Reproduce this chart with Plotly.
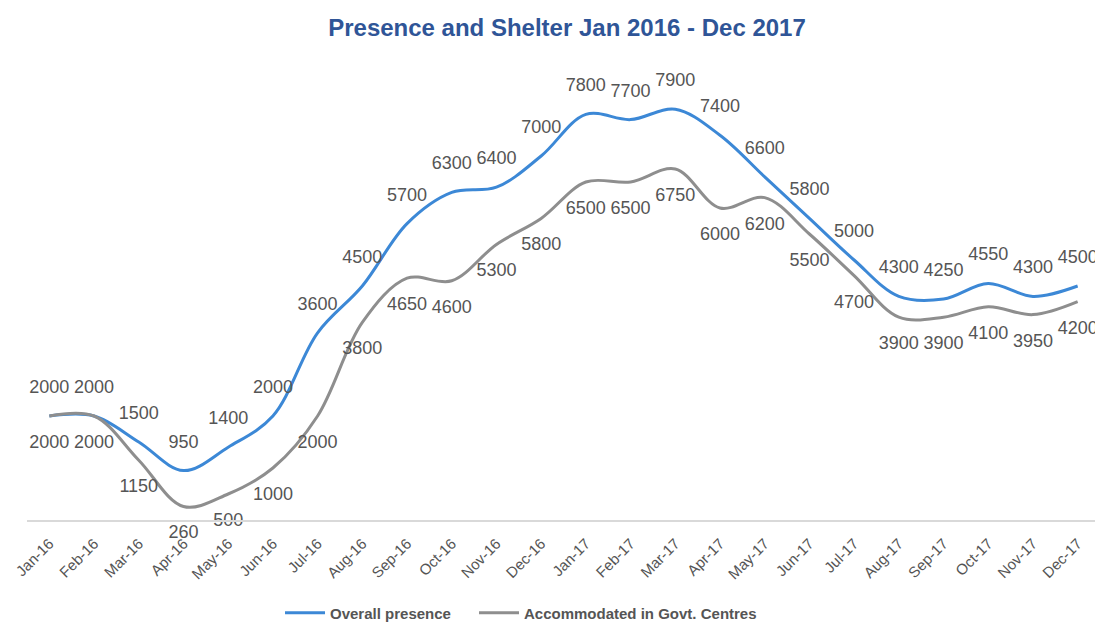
import plotly.graph_objects as go

months = ["Jan-16", "Feb-16", "Mar-16", "Apr-16", "May-16", "Jun-16", "Jul-16", "Aug-16",
          "Sep-16", "Oct-16", "Nov-16", "Dec-16", "Jan-17", "Feb-17", "Mar-17", "Apr-17",
          "May-17", "Jun-17", "Jul-17", "Aug-17", "Sep-17", "Oct-17", "Nov-17", "Dec-17"]
overall_presence = [2000, 2000, 1500, 950, 1400, 2000, 3600, 4500, 5700, 6300, 6400, 7000,
                    7800, 7700, 7900, 7400, 6600, 5800, 5000, 4300, 4250, 4550, 4300, 4500]
accommodated = [2000, 2000, 1150, 260, 500, 1000, 2000, 3800, 4650, 4600, 5300, 5800,
                6500, 6500, 6750, 6000, 6200, 5500, 4700, 3900, 3900, 4100, 3950, 4200]

blue = "#3C88D6"
gray = "#8E8E8E"
label_color = "#555555"
font_family = "Liberation Sans, Arial, sans-serif"

# the page body adds an 8px offset, so the figure is sized to fill the rest of the window
W, H = 1095, 618

fig = go.Figure()
fig.add_trace(go.Scatter(x=months, y=overall_presence, name="<b>Overall presence</b>",
                         mode="lines", legendwidth=139,
                         line=dict(color=blue, width=3, shape="spline", smoothing=1)))
fig.add_trace(go.Scatter(x=months, y=accommodated, name="<b>Accommodated in Govt. Centres</b>",
                         mode="lines",
                         line=dict(color=gray, width=3, shape="spline", smoothing=1)))
# data labels
fig.add_trace(go.Scatter(x=months, y=overall_presence, mode="markers+text", showlegend=False,
                         hoverinfo="skip", text=[str(v) for v in overall_presence],
                         textposition="top center", cliponaxis=False,
                         marker=dict(size=28, color="rgba(0,0,0,0)"),
                         textfont=dict(size=18, color=label_color, family=font_family)))
fig.add_trace(go.Scatter(x=months, y=accommodated, mode="markers+text", showlegend=False,
                         hoverinfo="skip", text=[str(v) for v in accommodated],
                         textposition="bottom center", cliponaxis=False,
                         marker=dict(size=28, color="rgba(0,0,0,0)"),
                         textfont=dict(size=18, color=label_color, family=font_family)))

fig.update_layout(
    width=W, height=H,
    margin=dict(l=19, r=3, t=44, b=106),
    paper_bgcolor="white", plot_bgcolor="white",
    font=dict(family=font_family, color=label_color),
    title=dict(text="<b>Presence and Shelter Jan 2016 - Dec 2017</b>",
               font=dict(size=24, color="#2F5597", family=font_family),
               x=0.5105, xanchor="center", yref="container", y=0.9676, yanchor="middle"),
    xaxis=dict(type="category", range=[-0.5, 23.5], showgrid=False, showline=True,
               linecolor="#D9D9D9", linewidth=2, ticks="", tickangle=-45,
               ticklabelstandoff=7, automargin=False,
               tickfont=dict(size=15, color=label_color)),
    yaxis=dict(range=[0, 9000], showgrid=False, showticklabels=False, zeroline=False,
               showline=False),
    legend=dict(orientation="h", x=0.2358, xanchor="left",
                yref="container", y=0.021, yanchor="middle",
                font=dict(size=15, color=label_color, family=font_family),
                itemwidth=40),
    showlegend=True,
)

fig.write_html("out.html")
